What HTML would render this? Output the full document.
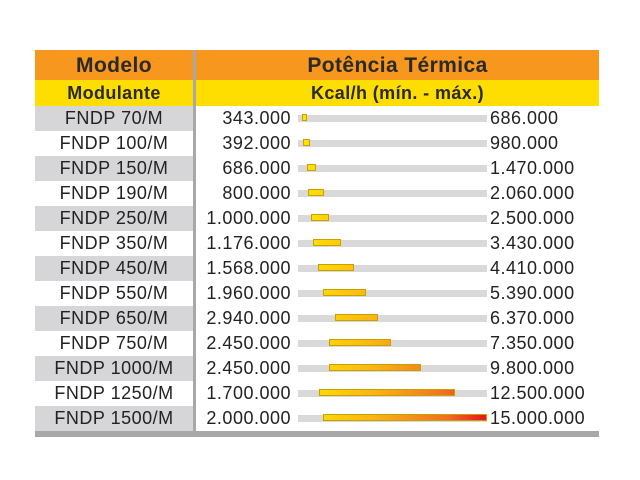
<!DOCTYPE html>
<html><head><meta charset="utf-8"><style>
body{margin:0;width:640px;height:480px;background:#fff;position:relative;font-family:"Liberation Sans",sans-serif;overflow:hidden}
.a{position:absolute}
.h1{top:50px;height:30px;background:#f7971e}
.h2{top:80px;height:26px;background:#fedd00}
.t{font-weight:bold;color:#2a2a2a;text-align:center;letter-spacing:0.4px}
.row{position:absolute;left:35px;width:564px;height:25px;font-size:18px;color:#222;letter-spacing:0.5px}
.m{position:absolute;left:0;width:158px;height:25px;line-height:25px;text-align:center}
.g .m{background:#d6d6d8}
.l{position:absolute;left:150px;width:106px;text-align:right;line-height:25px}
.r{position:absolute;left:455px;line-height:25px}
.tr{position:absolute;left:263px;width:189px;top:9px;height:7px;background:#d9d9d9}
.b{position:absolute;top:-1px;height:7px;border:1px solid #c8a000;box-sizing:border-box;background:linear-gradient(90deg,#ffe600,#fbb414 40%,#f07020 78%,#e8101e) no-repeat;background-size:189px 7px}
</style></head><body>
<div class="a h1" style="left:35px;width:158px"></div>
<div class="a h1" style="left:196px;width:403px"></div>
<div class="a h2" style="left:35px;width:158px"></div>
<div class="a h2" style="left:196px;width:403px"></div>
<div class="a t" style="left:35px;width:158px;top:54px;font-size:21px">Modelo</div>
<div class="a t" style="left:196px;width:403px;top:54px;font-size:21px">Potência Térmica</div>
<div class="a t" style="left:35px;width:158px;top:83px;font-size:18px">Modulante</div>
<div class="a t" style="left:196px;width:403px;top:83px;font-size:18px">Kcal/h (mín. - máx.)</div>
<div id="rows"></div>
<div class="a" style="left:193px;top:50px;width:3px;height:381px;background:#a8a8a8"></div>
<div class="a" style="left:35px;top:431px;width:564px;height:6px;background:#a8a8a8"></div>
<script>
var d=[["FNDP 70/M",343,686],["FNDP 100/M",392,980],["FNDP 150/M",686,1470],["FNDP 190/M",800,2060],["FNDP 250/M",1000,2500],["FNDP 350/M",1176,3430],["FNDP 450/M",1568,4410],["FNDP 550/M",1960,5390],["FNDP 650/M",2940,6370],["FNDP 750/M",2450,7350],["FNDP 1000/M",2450,9800],["FNDP 1250/M",1700,12500],["FNDP 1500/M",2000,15000]];
function f(v){var s=v*1000+"";return s.replace(/\B(?=(\d{3})+(?!\d))/g,".")}
var h="";d.forEach(function(r,i){var s=189*r[1]/15000,e=189*r[2]/15000;
h+='<div class="row'+(i%2==0?' g':'')+'" style="top:'+(106+i*25)+'px"><div class="m">'+r[0]+'</div><div class="l">'+f(r[1])+'</div><div class="tr"><div class="b" style="left:'+s.toFixed(1)+'px;width:'+(e-s).toFixed(1)+'px;background-position:-'+s.toFixed(1)+'px 0"></div></div><div class="r">'+f(r[2])+'</div></div>';});
document.getElementById("rows").innerHTML=h;
</script>
</body></html>
